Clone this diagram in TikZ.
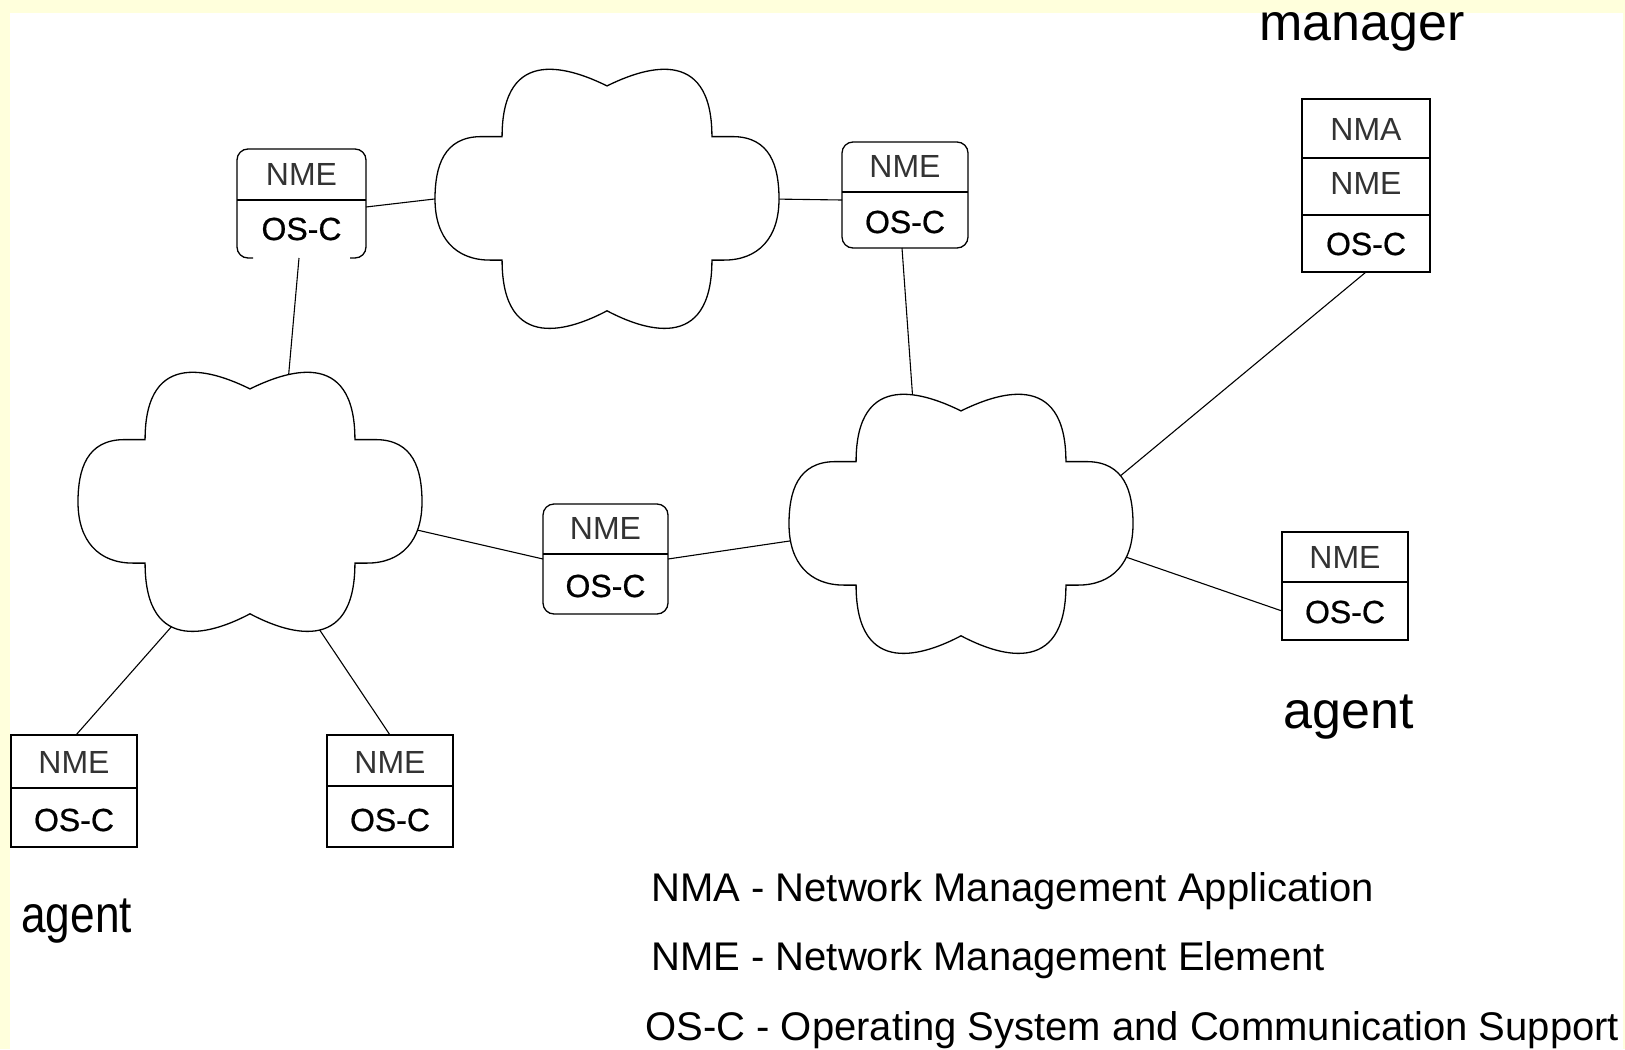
\documentclass[tikz,border=0pt]{standalone}
\usepackage{fontspec}
\setmainfont{Liberation Sans}
\newfontfamily\narrowsans{Liberation Sans}[FakeStretch=0.85]
\newfontfamily\heavysans{Liberation Sans}[FakeBold=0.6]
\usetikzlibrary{calc}
\definecolor{paper}{RGB}{255,255,220}

% one box: name, left, top, right, bottom, frame style (pixel units, y down)
\newcommand\placebox[6]{%
  \node[#6, minimum width={(#4-#2)*0.5pt}, minimum height={(#5-#3)*0.5pt}]
    (#1) at ({(#2+#4)/2},{(#3+#5)/2}) {};}

% cloud outline centred on a named coordinate
\newcommand\cloudat[1]{%
  \draw[cloudshape, shift={(#1)}, x=86pt, y=-65pt]
    (0,-0.87) .. controls (-0.2,-1.0) and (-0.61,-1.2) .. (-0.61,-0.48)
    -- (-0.73,-0.48) .. controls (-0.95,-0.48) and (-1,-0.25) .. (-1,0)
    .. controls (-1,0.3) and (-0.88,0.47) .. (-0.68,0.47)
    -- (-0.61,0.47) .. controls (-0.61,1.2) and (-0.2,1.0) .. (0,0.86)
    .. controls (0.2,1.0) and (0.61,1.2) .. (0.61,0.47)
    -- (0.68,0.47) .. controls (0.88,0.47) and (1,0.3) .. (1,0)
    .. controls (1,-0.25) and (0.95,-0.48) .. (0.73,-0.48)
    -- (0.61,-0.48) .. controls (0.61,-1.2) and (0.2,-1.0) .. (0,-0.87)
    -- cycle;}

\begin{document}
\begin{tikzpicture}[x=0.5pt, y=-0.5pt,
    boxline/.style={line width=0.65pt, draw=black},
    plainframe/.style={inner sep=0pt, outer sep=0pt},
    sharpframe/.style={plainframe, boxline},
    roundframe/.style={sharpframe, rounded corners=5.5pt},
    cell/.style={inner sep=0pt, font=\heavysans\fontsize{16}{16}\selectfont},
    thincell/.style={inner sep=0pt, text=black!80, font=\fontsize{16}{16}\selectfont},
    bigword/.style={inner sep=0pt, font=\fontsize{26}{26}\selectfont},
    legendline/.style={inner sep=0pt, anchor=base west, font=\fontsize{20}{20}\selectfont},
    link/.style={line width=0.55pt, draw=black},
    cloudshape/.style={draw=black, fill=white, line width=0.65pt}]

  % page and white sheet
  \useasboundingbox (0,0) rectangle (1625,1049);
  \fill[paper] (0,0) rectangle (1625,1049);
  \fill[white] (10,13) rectangle (1623,1049);

  % cloud centres and attachment points
  \coordinate (c1) at (250,502);
  \coordinate (c2) at (607,199);
  \coordinate (c3) at (961,524);
  \coordinate (c1n)  at ($(c1)+(38,-120)$);
  \coordinate (c1e)  at ($(c1)+(154,25)$);
  \coordinate (c1sw) at ($(c1)+(-70,115)$);
  \coordinate (c1se) at ($(c1)+(63,118)$);
  \coordinate (c2w)  at ($(c2)+(-164,-1)$);
  \coordinate (c2e)  at ($(c2)+(164,0)$);
  \coordinate (c3n)  at ($(c3)+(-48,-122)$);
  \coordinate (c3ne) at ($(c3)+(152,-42)$);
  \coordinate (c3w)  at ($(c3)+(-158,15)$);
  \coordinate (c3e)  at ($(c3)+(159,31)$);

  % NME / OS-C box, top left (bottom edge left open)
  \placebox{bA}{237}{149}{366}{258}{plainframe}
  \draw[boxline, rounded corners=5.5pt]
    ([xshift=8pt]bA.south west) -- (bA.south west) -- (bA.north west)
    -- (bA.north east) -- (bA.south east) -- ([xshift=-8pt]bA.south east);
  \draw[boxline] (237,200) -- (366,200);
  \node[thincell] (bA-nme) at (301.5,174.5) {NME};
  \node[cell] (bA-os) at (301.5,229) {OS-C};

  % NME / OS-C box, top middle
  \placebox{bB}{842}{142}{968}{248}{roundframe}
  \draw[boxline] (842,192) -- (968,192);
  \node[thincell] (bB-nme) at (905,166) {NME};
  \node[cell] (bB-os) at (905,222) {OS-C};

  % manager stack
  \placebox{bC}{1302}{99}{1430}{272}{sharpframe}
  \draw[boxline] (1302,158) -- (1430,158);
  \draw[boxline] (1302,215) -- (1430,215);
  \node[thincell] (bC-nma) at (1366,129) {NMA};
  \node[thincell] (bC-nme) at (1366,183) {NME};
  \node[cell] (bC-os) at (1366,244) {OS-C};

  % NME / OS-C box between the lower clouds
  \placebox{bD}{543}{504}{668}{614}{roundframe}
  \draw[boxline] (543,554) -- (668,554);
  \node[thincell] (bD-nme) at (605.5,528) {NME};
  \node[cell] (bD-os) at (605.5,586) {OS-C};

  % agent boxes, bottom left
  \placebox{bE}{11}{735}{137}{847}{sharpframe}
  \draw[boxline] (11,788) -- (137,788);
  \node[thincell] (bE-nme) at (74,762) {NME};
  \node[cell] (bE-os) at (74,820) {OS-C};

  \placebox{bF}{327}{735}{453}{847}{sharpframe}
  \draw[boxline] (327,786) -- (453,786);
  \node[thincell] (bF-nme) at (390,762) {NME};
  \node[cell] (bF-os) at (390,820) {OS-C};

  % agent box, right
  \placebox{bG}{1282}{532}{1408}{640}{sharpframe}
  \draw[boxline] (1282,582) -- (1408,582);
  \node[thincell] (bG-nme) at (1345,557) {NME};
  \node[cell] (bG-os) at (1345,612) {OS-C};

  % links (clouds are painted over their inner ends)
  \draw[link] ([yshift=-1.75pt]bA.east) -- (c2w);
  \draw[link] ([xshift=-1.25pt]bA.south) -- (c1n);
  \draw[link] (c2e) -- ([yshift=-2.5pt]bB.west);
  \draw[link] ([xshift=-1.5pt]bB.south) -- (c3n);
  \draw[link] (bC.south) -- (c3ne);
  \draw[link] (c1e) -- (bD.west);
  \draw[link] (bD.east) -- (c3w);
  \draw[link] (c3e) -- ([yshift=-12.5pt]bG.west);
  \draw[link] (c1sw) -- ([xshift=1pt]bE.north);
  \draw[link] (c1se) -- (bF.north);

  % clouds
  \cloudat{c1}
  \cloudat{c2}
  \cloudat{c3}

  % role labels
  \node[bigword, anchor=base west] (mgr) at (1259,40) {manager};
  \node[bigword, anchor=base] (agentR) at (1349,728) {agent};
  \node[bigword, font=\narrowsans\fontsize{26}{26}\selectfont, anchor=base west]
    (agentL) at (21,932) {agent};

  % legend
  \node[legendline] (leg1) at (651,901) {NMA - Network Management Application};
  \node[legendline] (leg2) at (651,970) {NME - Network Management Element};
  \node[legendline] (leg3) at (645,1040) {OS-C - Operating System and Communication Support};
\end{tikzpicture}
\end{document}
